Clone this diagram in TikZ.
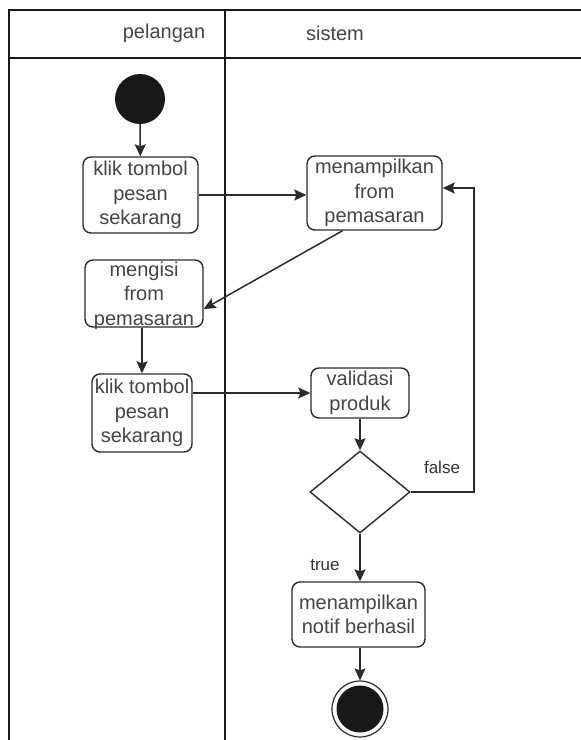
\documentclass[tikz,border=0pt]{standalone}
\usepackage{fontspec}
\setmainfont{Liberation Sans}
\usetikzlibrary{shapes.geometric,arrows.meta,calc}

\definecolor{inkline}{HTML}{2B2B2B}
\definecolor{inktext}{HTML}{454545}

\tikzset{
  lane/.style={draw=black!90, line width=1.6pt},
  action/.style={draw=inkline, line width=1.4pt, rounded corners=8pt, fill=white,
    inner sep=0pt, align=center, text=inktext,
    font=\fontsize{20}{24.5}\selectfont},
  decision/.style={draw=inkline, line width=1.4pt, diamond, inner sep=0pt,
    minimum width=100pt, minimum height=82pt, fill=white},
  startdot/.style={circle, fill=black!90, draw=none, minimum size=50pt, inner sep=0pt},
  flow/.style={draw=inkline, line width=1.5pt,
    -{Stealth[length=12pt,width=11pt,inset=2pt]}},
  guard/.style={text=black!80, font=\fontsize{17}{20}\selectfont, inner sep=0pt},
  header/.style={text=inktext, font=\fontsize{20}{22}\selectfont, inner sep=0pt}
}

\begin{document}
\begin{tikzpicture}[x=1pt, y=-1pt]
  \useasboundingbox (0,0) rectangle (581,740);

  % swimlane frame
  \draw[lane] (581,10) -- (9,10) -- (9,740);
  \draw[lane] (9,58) -- (581,58);
  \draw[lane] (225,10) -- (225,740);
  \node[header] (hcust) at (164,33) {pelangan};
  \node[header] (hsys)  at (335,33) {sistem};

  % activity nodes
  \node[startdot] (start) at (140,99) {};
  \node[action, minimum width=115pt, minimum height=76pt] (b1) at (140.5,195)
    {klik tombol\\pesan\\sekarang};
  \node[action, minimum width=135pt, minimum height=74pt] (b2) at (374.5,193)
    {menampilkan\\from\\pemasaran};
  \node[action, minimum width=118pt, minimum height=67pt, text depth=0pt] (b3) at (144,293.5)
    {mengisi\\from\\pemasaran};
  \node[action, minimum width=100pt, minimum height=78pt] (b4) at (142,413)
    {klik tombol\\pesan\\sekarang};
  \node[action, minimum width=98pt, minimum height=50pt] (b5) at (360,393)
    {validasi\\produk};
  \node[decision] (d) at (360,492) {};
  \node[action, minimum width=133pt, minimum height=65pt] (b6) at (358.5,614.5)
    {menampilkan\\notif berhasil};

  % final node: ring around a filled dot
  \node[circle, draw=inkline, line width=1.2pt, minimum size=56pt, inner sep=0pt] (end) at (360,709) {};
  \node[circle, fill=black!90, minimum size=47pt, inner sep=0pt] (endcore) at (end) {};

  \coordinate (loop) at (474,188);

  % control flow
  \draw[flow] (start) -- (b1);
  \draw[flow] (b1.east) -- (b2.west |- b1.east);
  \draw[flow] ([xshift=-32pt]b2.south) -- ([yshift=-15.5pt]b3.east);
  \draw[flow] (b4.north |- b3.south) -- (b4.north);
  \draw[flow] ([yshift=20pt]b4.east) -- (b5.west);
  \draw[flow] (b5.south) -- (d.north);
  \draw[flow] (d.east) -- (d.east -| loop) -- (loop) -- (b2.east |- loop);
  \draw[flow] (d.south) -- (d.south |- b6.north);
  \draw[flow] (b6.south -| end) -- (end.north);

  % guards
  \node[guard] (gfalse) at (442,467) {false};
  \node[guard] (gtrue)  at (325,565) {true};
\end{tikzpicture}
\end{document}
